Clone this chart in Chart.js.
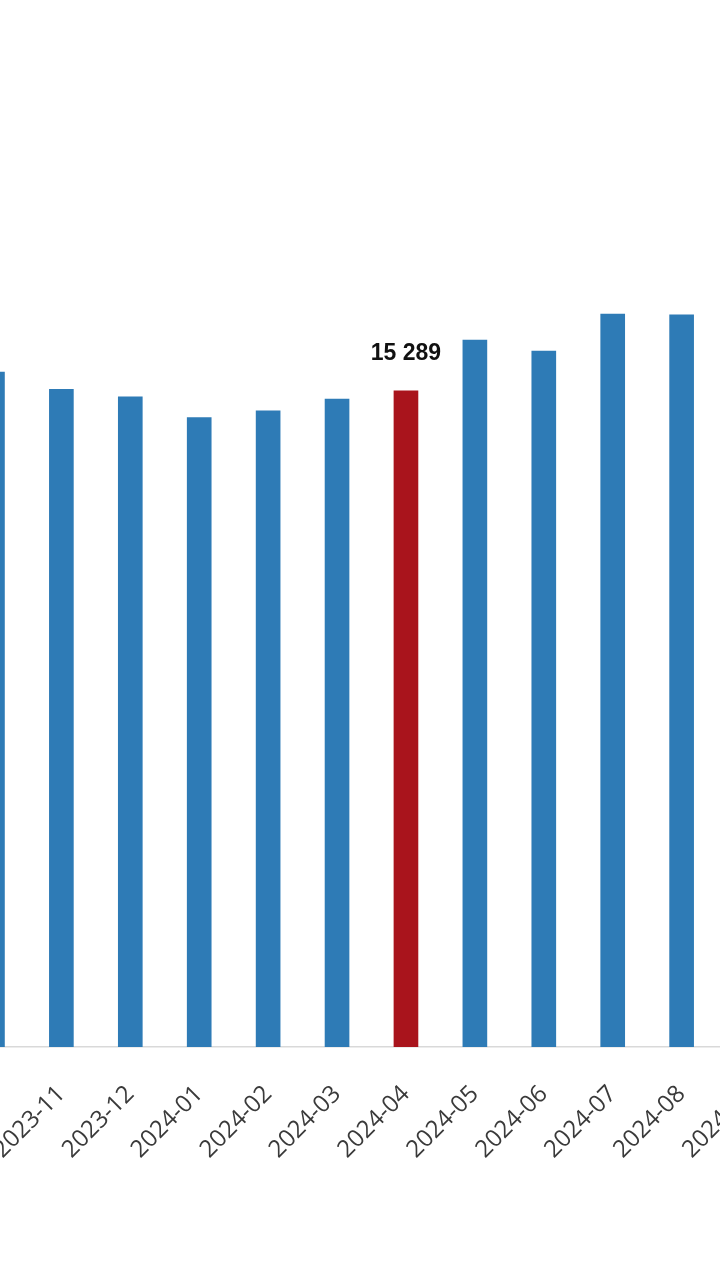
<!DOCTYPE html>
<html>
<head>
<meta charset="utf-8">
<script src="https://cdn.jsdelivr.net/npm/chart.js@4.4.0/dist/chart.umd.min.js"></script>
<style>
  html, body { margin: 0; padding: 0; background: #ffffff; }
  body { width: 720px; height: 1280px; overflow: hidden; position: relative; }
  /* il grafico e' tagliato ai lati come nell'originale */
  #box { position: absolute; left: -42px; top: 0; width: 827px; height: 1197px; }
</style>
</head>
<body>
<div id="box"><canvas id="myChart"></canvas></div>
<script>
// Mesi sull'asse x
var mesi = ["2023-10", "2023-11", "2023-12", "2024-01", "2024-02", "2024-03",
            "2024-04", "2024-05", "2024-06", "2024-07", "2024-08", "2024-09"];
// Valori delle barre
var valori = [15725, 15322, 15150, 14669, 14824, 15096,
              15289, 16470, 16214, 17076, 17060, 16900];
// Mese evidenziato in rosso con etichetta
var meseEvidenziato = "2024-04";

var coloreBlu = "#2E7BB6";
var coloreRosso = "#A9141C";
var coloriBarre = mesi.map(function (m) {
  return m === meseEvidenziato ? coloreRosso : coloreBlu;
});

// numero con lo spazio come separatore delle migliaia
function formatta(n) {
  return String(n).replace(/\B(?=(\d{3})+(?!\d))/g, " ");
}

// Plugin: scrive il valore sopra la barra evidenziata
var etichettaEvidenziata = {
  id: "etichettaEvidenziata",
  afterDatasetsDraw: function (chart) {
    var meta = chart.getDatasetMeta(0);
    var i = mesi.indexOf(meseEvidenziato);
    var bar = meta.data[i];
    var ctx = chart.ctx;
    ctx.save();
    ctx.font = "bold 23px 'Liberation Sans', Arial, sans-serif";
    ctx.fillStyle = "#111111";
    ctx.textAlign = "center";
    ctx.textBaseline = "middle";
    ctx.fillText(formatta(valori[i]), bar.x, bar.y - 37);
    ctx.restore();
  }
};

new Chart("myChart", {
  type: "bar",
  data: {
    labels: mesi,
    datasets: [
      {
        data: valori,
        backgroundColor: coloriBarre,
        borderWidth: 0,
        barThickness: 24,
      },
    ],
  },
  options: {
    responsive: true,
    maintainAspectRatio: false,
    animation: false,
    layout: { padding: { top: 17, left: 0, right: 0, bottom: 0 } },
    plugins: {
      legend: { display: false },
      tooltip: { enabled: false },
    },
    scales: {
      x: {
        grid: { display: false, drawTicks: false },
        border: { display: true, color: "#D9D9D9", width: 1.5 },
        ticks: {
          minRotation: 45,
          maxRotation: 45,
          autoSkip: false,
          padding: 33,
          color: "#3A3A3A",
          font: { family: "'Open Sans', sans-serif", size: 24 },
        },
        afterFit: function (scale) {
          scale.paddingLeft = 0;
          scale.paddingRight = 0;
          scale.height = 150;
        },
      },
      y: {
        display: false,
        min: 0,
        max: 24000,
      },
    },
  },
  plugins: [etichettaEvidenziata],
});
</script>
</body>
</html>
